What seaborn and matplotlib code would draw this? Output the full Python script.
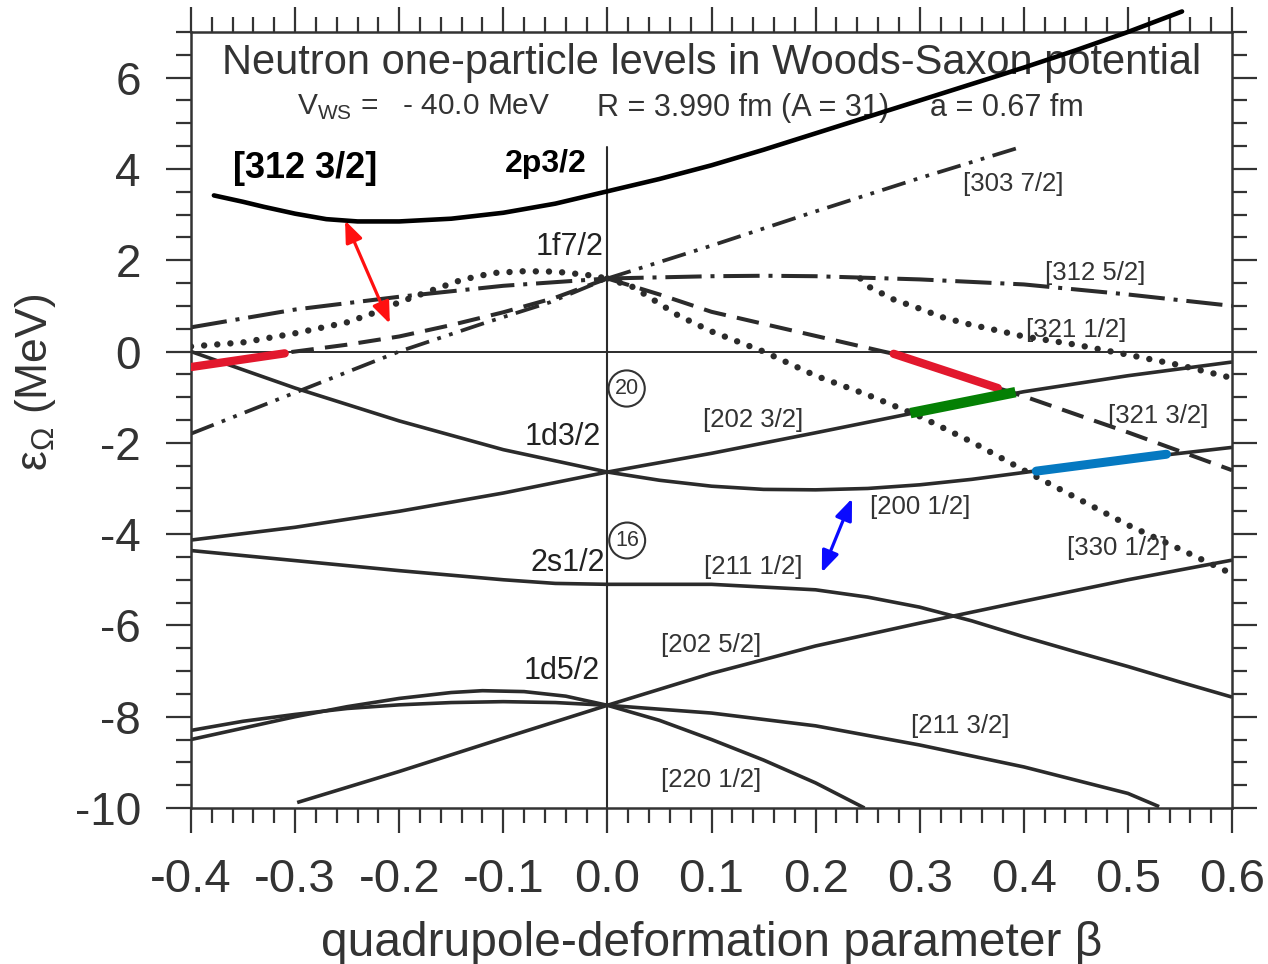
import matplotlib
matplotlib.use("Agg")
import matplotlib.pyplot as plt
import seaborn as sns

# ---------------- data ----------------
x_ticks = [-0.4, -0.3, -0.2, -0.1, 0.0, 0.1, 0.2, 0.3, 0.4, 0.5, 0.6]
x_tick_labels = ["-0.4", "-0.3", "-0.2", "-0.1", "0.0", "0.1", "0.2", "0.3", "0.4", "0.5", "0.6"]
y_ticks = [-10, -8, -6, -4, -2, 0, 2, 4, 6]
y_tick_labels = ["-10", "-8", "-6", "-4", "-2", "0", "2", "4", "6"]

# [312 3/2] from 2p3/2 (thick black)
p312_32_x = [-0.378, -0.35, -0.33, -0.3, -0.27, -0.24, -0.2, -0.15, -0.1, -0.05, 0.0,
             0.05, 0.1, 0.15, 0.2, 0.25, 0.3, 0.35, 0.4, 0.45, 0.5, 0.552]
p312_32_y = [3.42, 3.28, 3.17, 3.02, 2.9, 2.85, 2.85, 2.91, 3.04, 3.24, 3.51,
             3.78, 4.08, 4.42, 4.78, 5.14, 5.5, 5.86, 6.22, 6.6, 7.0, 7.45]

# 1f7/2 branches, beta < 0
f72_dashdot_x = [-0.4, -0.3, -0.2, -0.1, 0.0]
f72_dashdot_y = [0.53, 0.92, 1.2, 1.44, 1.6]
f72_dot_x = [-0.4, -0.35, -0.3, -0.25, -0.22, -0.2, -0.17, -0.14, -0.11, -0.08, -0.05, -0.02, 0.0]
f72_dot_y = [0.11, 0.2, 0.4, 0.64, 0.88, 1.08, 1.33, 1.57, 1.72, 1.76, 1.75, 1.68, 1.6]
f72_dash_x = [-0.4, -0.35, -0.31, -0.25, -0.2, -0.15, -0.1, -0.05, 0.0]
f72_dash_y = [-0.34, -0.17, -0.03, 0.15, 0.33, 0.58, 0.86, 1.18, 1.6]
f72_dashdotdot_x = [-0.4, -0.3, -0.2, -0.12, -0.055, 0.0]
f72_dashdotdot_y = [-1.8, -0.9, 0.0, 0.61, 1.08, 1.6]

# 1f7/2 branches, beta > 0
n303_72_x = [0.0, 0.1, 0.2, 0.3, 0.4]
n303_72_y = [1.6, 2.32, 3.07, 3.8, 4.5]
n312_52_x = [0.0, 0.1, 0.15, 0.2, 0.3, 0.4, 0.5, 0.6]
n312_52_y = [1.6, 1.65, 1.66, 1.65, 1.58, 1.47, 1.25, 1.0]
n321_12_x = [0.243, 0.252, 0.275, 0.3, 0.322, 0.347, 0.371, 0.4, 0.45, 0.5, 0.55, 0.6]
n321_12_y = [1.6, 1.41, 1.14, 0.94, 0.75, 0.6, 0.48, 0.33, 0.15, -0.07, -0.3, -0.58]
n321_32_x = [0.0, 0.05, 0.1, 0.17, 0.265, 0.275, 0.375, 0.4, 0.472, 0.5, 0.6]
n321_32_y = [1.6, 1.25, 0.87, 0.5, 0.0, -0.05, -0.8, -0.98, -1.55, -1.77, -2.6]
n330_12_x = [0.0, 0.025, 0.068, 0.1, 0.15, 0.2, 0.25, 0.3, 0.35, 0.4, 0.45, 0.5, 0.55, 0.6]
n330_12_y = [1.6, 1.41, 0.79, 0.44, 0.0, -0.53, -0.95, -1.42, -1.98, -2.6, -3.2, -3.8, -4.33, -4.87]

# sd-shell levels (solid)
d32_up_x = [-0.4, -0.3, -0.2, -0.1, 0.0]
d32_up_y = [0.0, -0.8, -1.52, -2.15, -2.64]
d32_low_x = [-0.4, -0.3, -0.2, -0.1, 0.0]
d32_low_y = [-4.13, -3.85, -3.5, -3.1, -2.64]
n200_12_x = [0.0, 0.05, 0.1, 0.15, 0.2, 0.25, 0.3, 0.35, 0.4, 0.45, 0.5, 0.55, 0.6]
n200_12_y = [-2.64, -2.82, -2.95, -3.02, -3.03, -3.0, -2.92, -2.8, -2.65, -2.5, -2.36, -2.23, -2.1]
n202_32_x = [0.0, 0.1, 0.2, 0.3, 0.4, 0.5, 0.6]
n202_32_y = [-2.64, -2.23, -1.78, -1.32, -0.88, -0.53, -0.23]
s12_left_x = [-0.4, -0.3, -0.2, -0.1, -0.05, 0.0]
s12_left_y = [-4.36, -4.58, -4.8, -5.0, -5.08, -5.1]
n211_12_x = [0.0, 0.1, 0.2, 0.25, 0.3, 0.35, 0.4, 0.45, 0.5, 0.55, 0.6]
n211_12_y = [-5.1, -5.1, -5.22, -5.38, -5.6, -5.9, -6.25, -6.58, -6.9, -7.24, -7.57]
d52_arc_x = [-0.4, -0.35, -0.3, -0.25, -0.2, -0.15, -0.12, -0.08, -0.04, 0.0]
d52_arc_y = [-8.5, -8.25, -8.0, -7.78, -7.6, -7.47, -7.43, -7.45, -7.55, -7.75]
d52_flat_x = [-0.4, -0.35, -0.3, -0.25, -0.2, -0.15, -0.1, -0.05, 0.0]
d52_flat_y = [-8.3, -8.1, -7.95, -7.82, -7.74, -7.69, -7.67, -7.69, -7.75]
d52_low_x = [-0.298, -0.2, -0.1, 0.0]
d52_low_y = [-9.88, -9.2, -8.47, -7.75]
n202_52_x = [0.0, 0.1, 0.2, 0.3, 0.4, 0.5, 0.6]
n202_52_y = [-7.75, -7.05, -6.45, -5.95, -5.47, -5.0, -4.57]
n211_32_x = [0.0, 0.1, 0.2, 0.3, 0.4, 0.5, 0.53]
n211_32_y = [-7.75, -7.92, -8.2, -8.62, -9.1, -9.68, -9.97]
n220_12_x = [0.0, 0.05, 0.1, 0.15, 0.2, 0.247]
n220_12_y = [-7.75, -8.08, -8.5, -8.95, -9.45, -10.0]

# coloured highlights
red_left_x, red_left_y = [-0.4, -0.31], [-0.34, -0.04]
red_right_x, red_right_y = [0.275, 0.375], [-0.05, -0.8]
green_x, green_y = [0.291, 0.392], [-1.35, -0.89]
blue_x, blue_y = [0.412, 0.537], [-2.62, -2.25]

# double arrows (start, end)
red_arrow = [(-0.252, 2.87), (-0.209, 0.61)]
blue_arrow = [(0.235, -3.22), (0.206, -4.84)]

# level labels
orbit_labels = [("1f7/2", -0.004, 2.28), ("1d3/2", -0.006, -1.88),
                ("2s1/2", -0.002, -4.64), ("1d5/2", -0.007, -7.0)]
nilsson_labels = [("[303 7/2]", 0.39, 3.68), ("[312 5/2]", 0.469, 1.71),
                  ("[321 1/2]", 0.45, 0.48), ("[202 3/2]", 0.14, -1.51),
                  ("[321 3/2]", 0.529, -1.42), ("[200 1/2]", 0.3, -3.41),
                  ("[330 1/2]", 0.49, -4.31), ("[211 1/2]", 0.14, -4.71),
                  ("[202 5/2]", 0.1, -6.43), ("[211 3/2]", 0.339, -8.21),
                  ("[220 1/2]", 0.1, -9.39)]
magic_numbers = [("20", 0.0185, -0.81), ("16", 0.019, -4.14)]

# ---------------- styling ----------------
sns.set_style("ticks")
plt.rcParams["font.family"] = ["Liberation Sans", "DejaVu Sans"]
plt.rcParams["axes.unicode_minus"] = False

TXT = "#333333"
LN = "#2b2b2b"

fig = plt.figure(figsize=(12.68, 9.64), dpi=100)
ax = fig.add_axes([191 / 1268, 1 - 808 / 964, (1232 - 191) / 1268, (808 - 32) / 964])

def draw(xs, ys, **kw):
    sns.lineplot(x=xs, y=ys, ax=ax, sort=False, estimator=None, **kw)

solid = dict(color=LN, lw=2.6, solid_capstyle="butt")
dotted = dict(color=LN, lw=4.6, linestyle=(0, (0.01, 2.05)), dash_capstyle="round")
dashed = dict(color=LN, lw=2.9, linestyle=(0, (5.6, 2.8)), dash_capstyle="butt")
dashdot = dict(color=LN, lw=2.9, linestyle=(0, (9.0, 2.2, 1.0, 2.2)), dash_capstyle="butt")
dashdotdot = dict(color=LN, lw=2.7, linestyle=(0, (6.5, 2.3, 1.0, 2.3, 1.0, 2.3)), dash_capstyle="butt")

# reference lines
ax.axhline(0, color=LN, lw=1.4, zorder=1)
ax.plot([0, 0], [-10, 4.47], color=LN, lw=1.5, zorder=1)

for xs, ys in [(d32_up_x, d32_up_y), (d32_low_x, d32_low_y), (n200_12_x, n200_12_y),
               (n202_32_x, n202_32_y), (s12_left_x, s12_left_y), (n211_12_x, n211_12_y),
               (d52_arc_x, d52_arc_y), (d52_flat_x, d52_flat_y), (d52_low_x, d52_low_y),
               (n202_52_x, n202_52_y), (n211_32_x, n211_32_y), (n220_12_x, n220_12_y)]:
    draw(xs, ys, **solid)

draw(f72_dashdot_x, f72_dashdot_y, **dashdot)
draw(n312_52_x, n312_52_y, **dashdot)
draw(f72_dashdotdot_x, f72_dashdotdot_y, **dashdotdot)
draw(n303_72_x, n303_72_y, **dashdotdot)
draw(f72_dash_x, f72_dash_y, **dashed)
draw(n321_32_x, n321_32_y, **dashed)
draw(f72_dot_x, f72_dot_y, **dotted)
draw(n321_12_x, n321_12_y, **dotted)
draw(n330_12_x, n330_12_y, **dotted)

draw(p312_32_x, p312_32_y, color="black", lw=3.3, clip_on=False, zorder=6)

draw(red_left_x, red_left_y, color="#e2182d", lw=6.0, solid_capstyle="round", zorder=7)
draw(red_right_x, red_right_y, color="#e2182d", lw=6.0, solid_capstyle="round", zorder=7)
draw(green_x, green_y, color="#048004", lw=7.5, solid_capstyle="butt", zorder=7)
draw(blue_x, blue_y, color="#0579c1", lw=6.5, solid_capstyle="round", zorder=7)

ax.annotate("", xy=red_arrow[1], xytext=red_arrow[0],
            arrowprops=dict(arrowstyle="<|-|>,head_length=0.5,head_width=0.2", color="#ff1010",
                            lw=2.3, mutation_scale=26, shrinkA=0, shrinkB=0), zorder=8)
ax.annotate("", xy=blue_arrow[1], xytext=blue_arrow[0],
            arrowprops=dict(arrowstyle="<|-|>,head_length=0.5,head_width=0.2", color="#0a0aff",
                            lw=2.3, mutation_scale=26, shrinkA=0, shrinkB=0), zorder=8)

# texts
ax.text(0.1, 6.33, "Neutron one-particle levels in Woods-Saxon potential",
        ha="center", va="center", fontsize=30, color=TXT, zorder=3)
ax.text(-0.298, 5.34, "V$_{\\mathregular{WS}}$ =   - 40.0 MeV", ha="left", va="center",
        fontsize=21.5, color=TXT)
ax.text(-0.010, 5.34, "R = 3.990 fm (A = 31)", ha="left", va="center", fontsize=22, color=TXT)
ax.text(0.31, 5.34, "a = 0.67 fm", ha="left", va="center", fontsize=22, color=TXT)
ax.text(-0.290, 4.0, "[312 3/2]", ha="center", va="center", fontsize=26,
        fontweight="bold", color="black")
ax.text(-0.059, 4.11, "2p3/2", ha="center", va="center", fontsize=23,
        fontweight="bold", color="black")
for t, x, y in orbit_labels:
    ax.text(x, y, t, ha="right", va="center", fontsize=22, color="#222222")
for t, x, y in nilsson_labels:
    ax.text(x, y, t, ha="center", va="center", fontsize=18.5, color=TXT)
for t, x, y in magic_numbers:
    ax.text(x, y, t, ha="center", va="center", fontsize=15.5, color=TXT,
            bbox=dict(boxstyle="circle,pad=0.28", fc="white", ec=TXT, lw=1.5))

# axes
ax.set_xlim(-0.4, 0.6)
ax.set_ylim(-10, 7)
ax.set_xticks(x_ticks, x_tick_labels)
ax.set_yticks(y_ticks, y_tick_labels)
ax.set_xticks([i / 50 for i in range(-20, 31)], minor=True)
ax.set_yticks([i / 2 for i in range(-20, 15)], minor=True)
ax.tick_params(which="both", direction="out", top=True, right=True, width=1.6,
               color=TXT, labelcolor=TXT)
ax.tick_params(which="major", length=18)
ax.tick_params(which="minor", length=10.5)
ax.tick_params(axis="x", which="major", labelsize=34, pad=18)
ax.tick_params(axis="y", which="major", labelsize=33, pad=18)
for s in ax.spines.values():
    s.set_linewidth(1.8)
    s.set_color(TXT)

ax.set_xlabel("quadrupole-deformation parameter β", fontsize=34.5, color=TXT)
ax.set_ylabel("ε$_{\\mathregular{Ω}}$ (MeV)", fontsize=32, color=TXT)
ax.xaxis.set_label_coords(0.5, -0.145)
ax.yaxis.set_label_coords(-0.128, 0.549)

fig.savefig("out.png", dpi=100)
